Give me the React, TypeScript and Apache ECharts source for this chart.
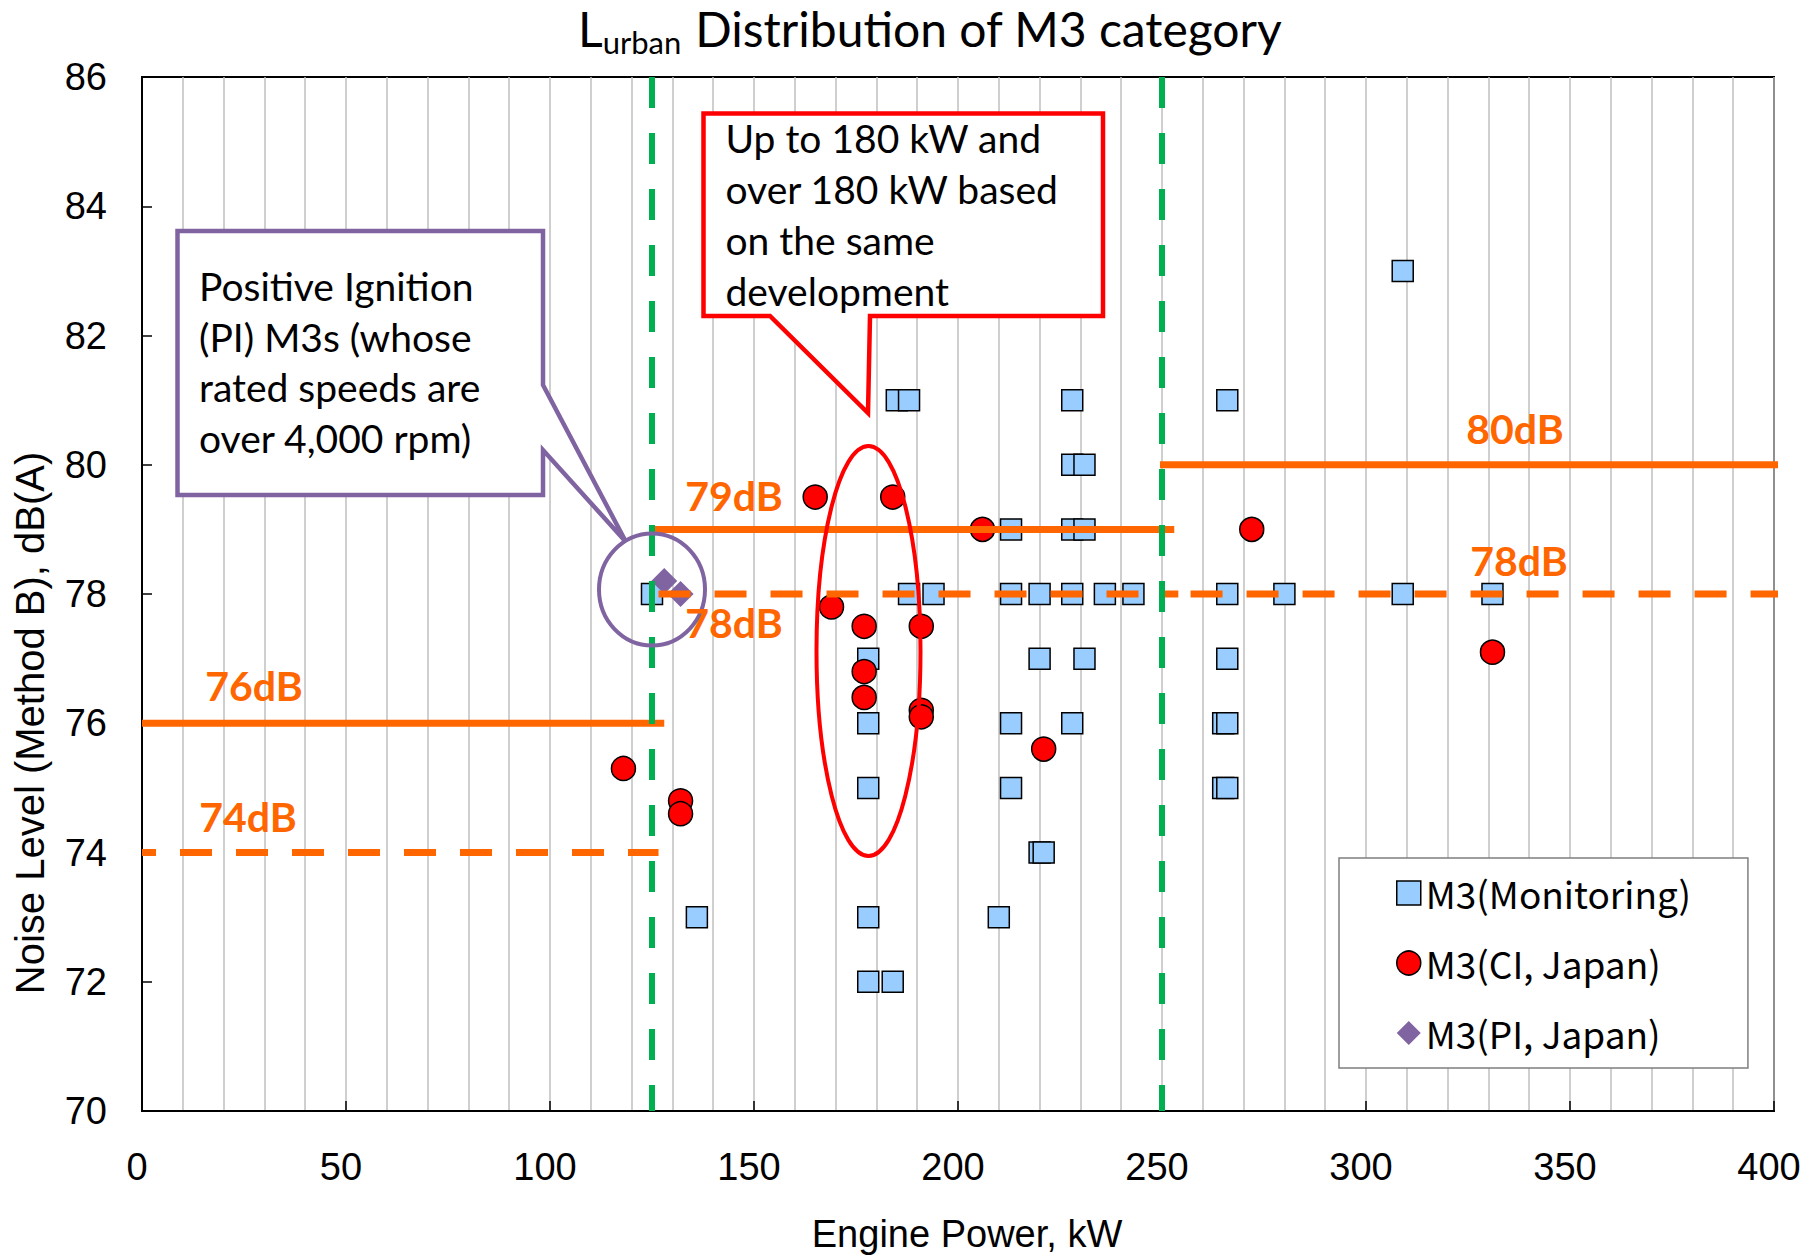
import React, { useEffect, useRef } from 'react';
import * as echarts from 'echarts';

// Engine power (kW) and L_urban level (dB(A)) of each vehicle
const monitoringPower = [
  309, 185, 188, 228, 266,
  228, 231,
  213, 228, 231,
  125, 188, 194, 213, 220, 228, 236, 243, 266, 280, 309, 331,
  178, 220, 231, 266,
  178, 213, 228, 265, 266,
  178, 213, 265, 266,
  220, 221,
  136, 178, 210,
  178, 184,
];
const monitoringLevel = [
  83, 81, 81, 81, 81,
  80, 80,
  79, 79, 79,
  78, 78, 78, 78, 78, 78, 78, 78, 78, 78, 78, 78,
  77, 77, 77, 77,
  76, 76, 76, 76, 76,
  75, 75, 75, 75,
  74, 74,
  73, 73, 73,
  72, 72,
];

const ciPower = [118, 132, 132, 165, 169, 177, 177, 177, 184, 191, 191, 191, 206, 221, 272, 331];
const ciLevel = [75.3, 74.8, 74.6, 79.5, 77.8, 77.5, 76.8, 76.4, 79.5, 77.5, 76.2, 76.1, 79.0, 75.6, 79.0, 77.1];

const piPower = [128, 132];
const piLevel = [78.2, 78.0];

const seriesNames = ['M3(Monitoring)', 'M3(CI, Japan)', 'M3(PI, Japan)'];

// Power class boundaries, kW
const boundaryPower = [125, 250];

// Limit values, dB(A), and the power range (kW) each one covers
const limitLevel = [76, 74, 79, 78, 78, 80];
const limitFrom = [0, 0, 125, 126.6, 257, 249.5];
const limitTo = [128, 126.6, 253, 254, 402, 402];
const limitDashed = [false, true, false, true, true, false];

// Axis ranges
const xMin = 0;
const xMax = 400;
const xStep = 50;
const yMin = 70;
const yMax = 86;
const yStep = 2;

const ORANGE = '#FF6600';
const GREEN = '#00B050';
const PURPLE = '#8064A2';
const RED = '#FF0000';

const zip = (xs: number[], ys: number[]) => xs.map((x, i) => [x, ys[i]]);

// Where the "xxdB" tag of each limit line is centred (px)
const limitLabelPos: [number, number][] = [
  [254, 685],
  [248, 816],
  [734, 495],
  [734, 622],
  [1519, 560],
  [1515, 428],
];

export default function App() {
  const ref = useRef<HTMLDivElement>(null);

  useEffect(() => {
    if (!ref.current) return;
    const chart = echarts.init(ref.current, undefined, { renderer: 'svg' });

    const limitSeries = limitLevel.map((lv, i) => ({
      name: `limit-${i}`,
      type: 'line',
      data: [
        [limitFrom[i], lv],
        [limitTo[i], lv],
      ],
      symbol: 'none',
      clip: false,
      silent: true,
      z: 5,
      lineStyle: {
        color: ORANGE,
        width: 7,
        type: limitDashed[i] ? [32, 24] : 'solid',
        dashOffset: i === 1 ? 18 : 0,
        cap: 'butt',
      },
    }));

    const boundarySeries = boundaryPower.map((p, i) => ({
      name: `boundary-${i}`,
      type: 'line',
      data: [
        [p, yMax],
        [p, yMin],
      ],
      symbol: 'none',
      clip: false,
      silent: true,
      z: 6,
      lineStyle: { color: GREEN, width: 6, type: [31, 25], cap: 'butt' },
    }));

    const calloutFont = '39px Lato';

    const option: any = {
      animation: false,
      backgroundColor: '#fff',
      title: {
        text: '{l|L}{sub|urban}{m|Distribution of M3 category}',
        left: 573,
        top: 0,
        padding: [4, 5, 0, 5],
        textStyle: {
          fontWeight: 'normal',
          rich: {
            l: { fontFamily: 'Lato', fontSize: 48, fontWeight: 'normal', lineHeight: 46, verticalAlign: 'top', color: '#000' },
            sub: { fontFamily: 'Lato', fontSize: 31, fontWeight: 'normal', lineHeight: 31, verticalAlign: 'top', padding: [22, 0, 0, 0], color: '#000' },
            m: { fontFamily: 'Lato', fontSize: 48, fontWeight: 'normal', lineHeight: 46, verticalAlign: 'top', padding: [0, 0, 0, 14], color: '#000' },
          },
        },
      },
      grid: {
        left: 142,
        top: 77,
        right: 46,
        bottom: 141,
        show: true,
        borderColor: '#000',
        borderWidth: 2,
        backgroundColor: 'transparent',
      },
      legend: {
        orient: 'vertical',
        left: 1339,
        top: 858,
        padding: [15, 57, 15, 57],
        itemWidth: 24,
        itemHeight: 24,
        itemGap: 30,
        backgroundColor: '#fff',
        borderColor: '#7F7F7F',
        borderWidth: 1.5,
        borderRadius: 0,
        textStyle: { fontFamily: 'Noto Sans CJK JP', fontSize: 37, lineHeight: 40, color: '#000' },
        data: [
          { name: seriesNames[0], icon: 'rect', itemStyle: { color: '#99CCFF', borderColor: '#000', borderWidth: 1.5 } },
          { name: seriesNames[1], icon: 'circle', itemStyle: { color: RED, borderColor: '#000', borderWidth: 1.5 } },
          { name: seriesNames[2], icon: 'diamond', itemStyle: { color: PURPLE, borderWidth: 0 } },
        ],
      },
      xAxis: {
        type: 'value',
        min: xMin,
        max: xMax,
        interval: xStep,
        name: 'Engine Power, kW',
        nameLocation: 'middle',
        nameGap: 104,
        nameTextStyle: { fontFamily: 'Liberation Sans', fontSize: 38, color: '#000', padding: [0, 0, 0, 18] },
        axisLine: { lineStyle: { color: '#000', width: 2 } },
        axisTick: { show: true, inside: true, length: 10, lineStyle: { color: '#000', width: 1.5 } },
        axisLabel: { fontFamily: 'Liberation Sans', fontSize: 38, color: '#000', margin: 37, padding: [0, 10, 0, 0] },
        splitLine: { show: true, lineStyle: { color: '#BFBFBF', width: 1.5 } },
        minorTick: { show: false, splitNumber: 5 },
        minorSplitLine: { show: true, lineStyle: { color: '#BFBFBF', width: 1.5 } },
      },
      yAxis: {
        type: 'value',
        min: yMin,
        max: yMax,
        interval: yStep,
        name: 'Noise Level (Method B), dB(A)',
        nameLocation: 'middle',
        nameGap: 92,
        nameTextStyle: { fontFamily: 'Liberation Sans', fontSize: 40, color: '#000', padding: [0, 258, 0, 0] },
        axisLine: { lineStyle: { color: '#000', width: 2 } },
        axisTick: { show: true, inside: true, length: 10, lineStyle: { color: '#000', width: 1.5 } },
        axisLabel: { fontFamily: 'Liberation Sans', fontSize: 38, color: '#000', margin: 35 },
        splitLine: { show: false },
      },
      series: [
        {
          name: seriesNames[0],
          type: 'scatter',
          symbol: 'rect',
          symbolSize: 21,
          data: zip(monitoringPower, monitoringLevel),
          itemStyle: { color: '#99CCFF', borderColor: '#000', borderWidth: 1.5, opacity: 1 },
          z: 2,
        },
        {
          name: seriesNames[1],
          type: 'scatter',
          symbol: 'circle',
          symbolSize: 24,
          data: zip(ciPower, ciLevel),
          itemStyle: { color: RED, borderColor: '#000', borderWidth: 1.5, opacity: 1 },
          z: 3,
        },
        {
          name: seriesNames[2],
          type: 'scatter',
          symbol: 'diamond',
          symbolSize: 26,
          data: zip(piPower, piLevel),
          itemStyle: { color: PURPLE, opacity: 1 },
          z: 4,
        },
        ...limitSeries,
        ...boundarySeries,
      ],
      graphic: [
        // ring around the PI vehicles
        {
          type: 'ellipse',
          z: 100,
          shape: { cx: 652, cy: 589.5, rx: 53, ry: 56 },
          style: { fill: 'none', stroke: PURPLE, lineWidth: 4 },
        },
        // ring around the 180 kW family
        {
          type: 'ellipse',
          z: 100,
          shape: { cx: 868.5, cy: 651, rx: 52, ry: 205 },
          style: { fill: 'none', stroke: RED, lineWidth: 4 },
        },
        // PI callout
        {
          type: 'polygon',
          z: 101,
          shape: {
            points: [
              [177.5, 231],
              [543, 231],
              [543, 385],
              [626, 542],
              [543, 450],
              [543, 495],
              [177.5, 495],
            ],
          },
          style: { fill: '#fff', stroke: PURPLE, lineWidth: 4.5, lineJoin: 'miter' },
        },
        {
          type: 'text',
          z: 102,
          x: 199,
          y: 261,
          style: {
            text: 'Positive Ignition\n(PI) M3s (whose\nrated speeds are\nover 4,000 rpm)',
            font: calloutFont,
            lineHeight: 50.5,
            fill: '#000',
            verticalAlign: 'top',
          },
        },
        // 180 kW callout
        {
          type: 'polygon',
          z: 101,
          shape: {
            points: [
              [703.5, 113.5],
              [1103, 113.5],
              [1103, 316],
              [870, 316],
              [868, 413],
              [770, 316],
              [703.5, 316],
            ],
          },
          style: { fill: '#fff', stroke: RED, lineWidth: 4.5, lineJoin: 'miter' },
        },
        {
          type: 'text',
          z: 102,
          x: 725.5,
          y: 112,
          style: {
            text: 'Up to 180 kW and\nover 180 kW based\non the same\ndevelopment',
            font: calloutFont,
            lineHeight: 51,
            fill: '#000',
            verticalAlign: 'top',
          },
        },
        // limit tags
        ...limitLevel.map((lv, i) => ({
          type: 'text',
          z: 103,
          x: limitLabelPos[i][0],
          y: limitLabelPos[i][1],
          style: {
            text: `${lv}dB`,
            font: 'bold 41px Lato',
            fill: ORANGE,
            align: 'center',
            verticalAlign: 'middle',
          },
        })),
      ],
    };

    chart.setOption(option);
    return () => chart.dispose();
  }, []);

  return (
    <div
      ref={ref}
      style={{ position: 'fixed', left: 0, top: 0, width: 1820, height: 1258, background: '#fff' }}
    />
  );
}
